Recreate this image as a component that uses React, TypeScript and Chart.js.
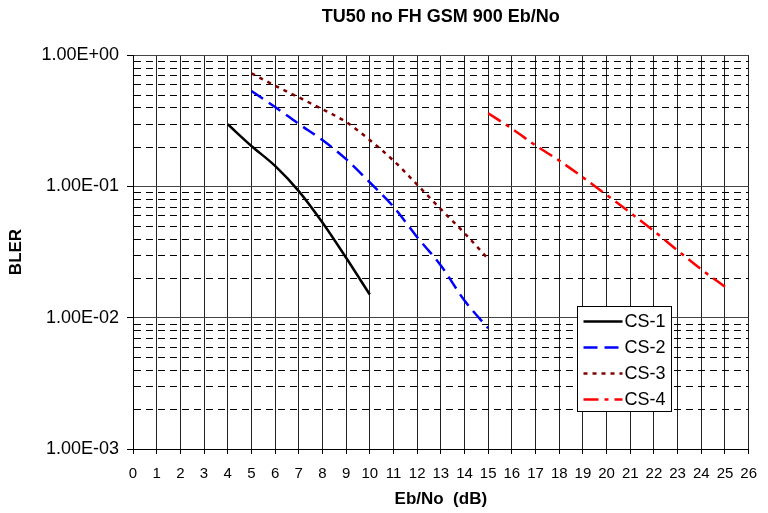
import React, { useEffect, useRef } from "react";
import { Chart, registerables } from "chart.js";

Chart.register(...registerables);

const CHART_TITLE = "TU50 no FH GSM 900 Eb/No";
const X_TITLE = "Eb/No  (dB)";
const Y_TITLE = "BLER";

const SERIES_LABELS = ["CS-1", "CS-2", "CS-3", "CS-4"];

const CS1_EBNO = [4, 5, 6, 7, 8, 9, 10];
const CS1_BLER = [0.297, 0.203, 0.143, 0.092, 0.053, 0.0286, 0.015];

const CS2_EBNO = [5, 6, 7, 8, 9, 10, 11, 12, 13, 14, 15];
const CS2_BLER = [0.532, 0.402, 0.299, 0.225, 0.161, 0.107, 0.07, 0.041, 0.025, 0.0135, 0.0083];

const CS3_EBNO = [5, 6, 7, 8, 9, 10, 11, 12, 13, 14, 15];
const CS3_BLER = [0.725, 0.584, 0.476, 0.386, 0.309, 0.225, 0.157, 0.103, 0.067, 0.044, 0.028];

const CS4_EBNO = [15, 16, 17, 18, 19, 20, 21, 22, 23, 24, 25];
const CS4_BLER = [0.36, 0.275, 0.205, 0.157, 0.117, 0.086, 0.063, 0.0456, 0.0325, 0.0233, 0.0172];

const X_MIN = 0;
const X_MAX = 26;
const Y_DECADES = [0.001, 0.01, 0.1, 1];

const FONT = "'Liberation Sans', Arial, sans-serif";

function isDecade(v: number) {
  const l = Math.log10(v);
  return Math.abs(l - Math.round(l)) < 1e-9;
}

function sciLabel(v: number) {
  const e = Math.round(Math.log10(v));
  const m = v / Math.pow(10, e);
  const sign = e < 0 ? "-" : "+";
  return m.toFixed(2) + "E" + sign + String(Math.abs(e)).padStart(2, "0");
}

function buildYTicks() {
  const vals: number[] = [];
  for (let i = 0; i < Y_DECADES.length - 1; i++) {
    for (let m = 1; m <= 9; m++) vals.push(m * Y_DECADES[i]);
  }
  vals.push(Y_DECADES[Y_DECADES.length - 1]);
  return vals;
}

function pts(xs: number[], ys: number[]) {
  return xs.map((x, i) => ({ x, y: ys[i] }));
}

const minorGridPlugin = {
  id: "minorGrid",
  beforeDatasetsDraw(chart: any) {
    const { ctx, chartArea, scales } = chart;
    const ys = scales.y;
    ctx.save();
    ctx.strokeStyle = "#000";
    ctx.lineWidth = 1;
    ctx.setLineDash([7, 5]);
    ys.ticks.forEach((t: any) => {
      if (isDecade(t.value)) return;
      const y = Math.round(ys.getPixelForValue(t.value)) + 0.5;
      ctx.beginPath();
      ctx.moveTo(chartArea.left + 1, y);
      ctx.lineTo(chartArea.right, y);
      ctx.stroke();
    });
    ctx.restore();
  },
};

const titlePlugin = {
  id: "customTitle",
  afterDraw(chart: any) {
    const { ctx, chartArea } = chart;
    ctx.save();
    ctx.font = `bold 18px ${FONT}`;
    ctx.fillStyle = "#000";
    ctx.textAlign = "center";
    ctx.textBaseline = "middle";
    ctx.fillText(CHART_TITLE, (chartArea.left + chartArea.right) / 2, 17);
    ctx.restore();
  },
};

const legendPlugin = {
  id: "customLegend",
  afterDraw(chart: any) {
    const { ctx } = chart;
    const left = 577.5;
    const top = 306.5;
    const w = 94;
    const h = 105;
    ctx.save();
    ctx.fillStyle = "#fff";
    ctx.fillRect(left, top, w, h);
    ctx.strokeStyle = "#000";
    ctx.lineWidth = 1;
    ctx.setLineDash([]);
    ctx.strokeRect(left, top, w, h);
    chart.data.datasets.forEach((ds: any, i: number) => {
      const y = top + 15 + i * 26;
      ctx.beginPath();
      ctx.strokeStyle = ds.borderColor;
      ctx.lineWidth = ds.borderWidth;
      ctx.setLineDash(ds.borderDash || []);
      ctx.moveTo(left + 6, y);
      ctx.lineTo(left + 45, y);
      ctx.stroke();
      ctx.setLineDash([]);
      ctx.fillStyle = "#000";
      ctx.font = `18px ${FONT}`;
      ctx.textAlign = "left";
      ctx.textBaseline = "middle";
      ctx.fillText(ds.label, left + 47, y + 1);
    });
    ctx.restore();
  },
};

export default function App() {
  const canvasRef = useRef<HTMLCanvasElement | null>(null);

  useEffect(() => {
    const canvas = canvasRef.current;
    if (!canvas) return;
    const yTicks = buildYTicks();
    const chart = new Chart(canvas, {
      type: "line",
      data: {
        datasets: [
          {
            label: SERIES_LABELS[0],
            data: pts(CS1_EBNO, CS1_BLER),
            borderColor: "#000000",
            borderWidth: 2.5,
            borderDash: [],
            pointRadius: 0,
            fill: false,
            cubicInterpolationMode: "monotone",
          },
          {
            label: SERIES_LABELS[1],
            data: pts(CS2_EBNO, CS2_BLER),
            borderColor: "#0000ff",
            borderWidth: 2.5,
            borderDash: [14, 7],
            pointRadius: 0,
            fill: false,
            cubicInterpolationMode: "monotone",
          },
          {
            label: SERIES_LABELS[2],
            data: pts(CS3_EBNO, CS3_BLER),
            borderColor: "#800000",
            borderWidth: 2.5,
            borderDash: [4, 5],
            pointRadius: 0,
            fill: false,
            cubicInterpolationMode: "monotone",
          },
          {
            label: SERIES_LABELS[3],
            data: pts(CS4_EBNO, CS4_BLER),
            borderColor: "#ff0000",
            borderWidth: 2.5,
            borderDash: [15, 6, 4, 6],
            pointRadius: 0,
            fill: false,
            cubicInterpolationMode: "monotone",
          },
        ],
      },
      options: {
        responsive: false,
        animation: false,
        events: [],
        layout: { padding: { top: 55, left: 0, right: 11, bottom: 0 } },
        plugins: {
          legend: { display: false },
          title: { display: false },
          tooltip: { enabled: false },
        },
        scales: {
          x: {
            type: "linear",
            min: X_MIN,
            max: X_MAX,
            afterFit: (s: any) => {
              s.height = 64;
            },
            ticks: {
              stepSize: 1,
              autoSkip: false,
              maxRotation: 0,
              color: "#000",
              font: { family: FONT, size: 15 },
              padding: 11,
            },
            grid: {
              color: "#222",
              lineWidth: 1,
              tickLength: 5,
              tickColor: "#000",
            },
            border: { color: "#000", width: 1 },
            title: {
              display: true,
              text: X_TITLE,
              color: "#000",
              font: { family: FONT, size: 17, weight: "bold" },
              padding: { top: 0, bottom: 3 },
            },
          },
          y: {
            type: "logarithmic",
            min: Y_DECADES[0],
            max: Y_DECADES[Y_DECADES.length - 1],
            afterFit: (s: any) => {
              s.width = 133;
            },
            afterBuildTicks: (s: any) => {
              s.ticks = yTicks.map((v) => ({ value: v, major: isDecade(v) }));
            },
            ticks: {
              autoSkip: false,
              color: "#000",
              font: { family: FONT, size: 18 },
              padding: 8,
              callback: (v: any) => (isDecade(Number(v)) ? sciLabel(Number(v)) : ""),
            },
            grid: {
              color: (c: any) => (c.tick && isDecade(c.tick.value) ? "#444" : "rgba(0,0,0,0)"),
              lineWidth: 1,
              tickLength: 6,
              tickColor: (c: any) => (c.tick && isDecade(c.tick.value) ? "#000" : "rgba(0,0,0,0)"),
            },
            border: { color: "#000", width: 1 },
            title: {
              display: true,
              text: Y_TITLE,
              color: "#000",
              font: { family: FONT, size: 17, weight: "bold" },
              padding: { top: 6, bottom: 0 },
            },
          },
        },
      },
      plugins: [minorGridPlugin, titlePlugin, legendPlugin],
    } as any);
    return () => chart.destroy();
  }, []);

  return (
    <div style={{ position: "absolute", left: 0, top: 0, width: 768, height: 513, background: "#fff" }}>
      <canvas ref={canvasRef} width={768} height={513} style={{ width: 768, height: 513, display: "block" }} />
    </div>
  );
}
